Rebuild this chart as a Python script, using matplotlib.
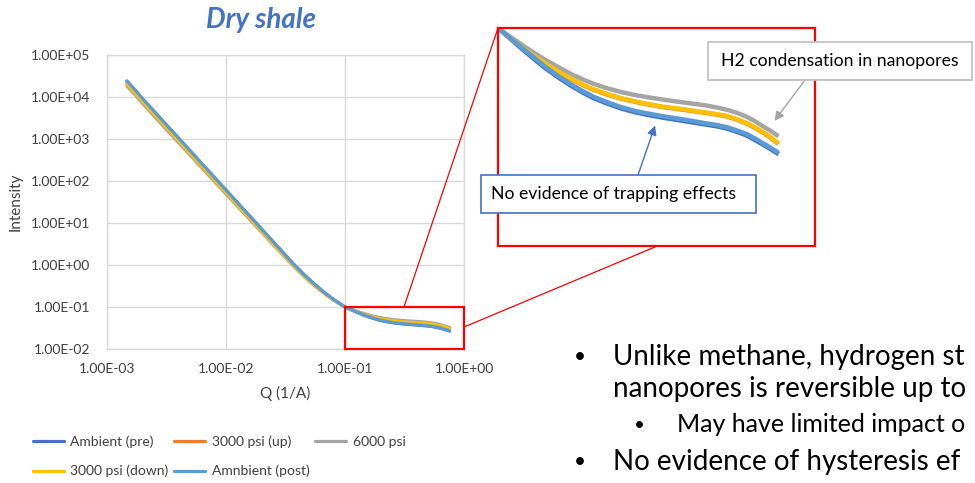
import matplotlib
matplotlib.use("Agg")
import matplotlib.pyplot as plt
from matplotlib.ticker import FuncFormatter, LogLocator, NullLocator
from matplotlib.patches import Rectangle, ConnectionPatch

plt.rcParams['font.family'] = ['Lato', 'DejaVu Sans']

# Scattering vector Q (1/A)
q = [0.00147, 0.0017, 0.002, 0.0025, 0.003, 0.004, 0.005, 0.0065, 0.008, 0.01,
     0.013, 0.016, 0.02, 0.025, 0.03, 0.037, 0.045, 0.055, 0.067, 0.08,
     0.1, 0.11, 0.12, 0.13, 0.14, 0.155, 0.17, 0.185, 0.2, 0.22,
     0.245, 0.27, 0.29, 0.33, 0.37, 0.41, 0.45, 0.49, 0.53, 0.57,
     0.61, 0.65, 0.69, 0.72, 0.757]

ambient_pre = [23500, 15000, 8800, 4400, 2500, 1030, 515, 228, 120, 60,
               26.6, 14.0, 7.0, 3.5, 2.0, 1.04, 0.596, 0.355, 0.221, 0.151,
               0.100, 0.0885, 0.0793, 0.0720, 0.0659, 0.0593, 0.0543, 0.0506, 0.0477, 0.0451,
               0.0427, 0.0411, 0.0402, 0.0388, 0.0378, 0.0369, 0.0361, 0.0354, 0.0345, 0.0333,
               0.0321, 0.0305, 0.0290, 0.0280, 0.0267]

psi3000_up = [20600, 13100, 7700, 3860, 2200, 905, 454, 201, 106, 53.5,
              23.8, 12.6, 6.35, 3.2, 1.84, 0.965, 0.557, 0.336, 0.213, 0.148,
              0.100, 0.0890, 0.0805, 0.0739, 0.0688, 0.0627, 0.0582, 0.0547, 0.0521, 0.0496,
              0.0474, 0.0459, 0.0449, 0.0434, 0.0425, 0.0416, 0.0408, 0.0401, 0.0392, 0.0379,
              0.0364, 0.0347, 0.0329, 0.0316, 0.0298]

psi6000 = [18300, 11700, 6900, 3450, 1960, 815, 410, 183, 97, 49,
           22.0, 11.7, 5.95, 3.02, 1.75, 0.93, 0.54, 0.328, 0.209, 0.146,
           0.100, 0.0906, 0.0830, 0.0769, 0.0719, 0.0661, 0.0615, 0.0581, 0.0555, 0.0530,
           0.0508, 0.0493, 0.0484, 0.0470, 0.0459, 0.0450, 0.0442, 0.0432, 0.0421, 0.0407,
           0.0391, 0.0372, 0.0352, 0.0339, 0.0323]

psi3000_down = [20400, 13000, 7650, 3830, 2180, 900, 450, 200, 105.5, 53,
                23.6, 12.5, 6.3, 3.18, 1.83, 0.96, 0.555, 0.335, 0.212, 0.147,
                0.100, 0.0893, 0.0809, 0.0743, 0.0692, 0.0631, 0.0585, 0.0550, 0.0524, 0.0499,
                0.0476, 0.0461, 0.0451, 0.0436, 0.0427, 0.0418, 0.0410, 0.0403, 0.0394, 0.0381,
                0.0366, 0.0349, 0.0331, 0.0318, 0.0300]

ambient_post = [24200, 15400, 9000, 4500, 2550, 1050, 525, 232, 122, 61,
                27.0, 14.2, 7.1, 3.55, 2.02, 1.05, 0.60, 0.357, 0.222, 0.152,
                0.100, 0.0893, 0.0803, 0.0731, 0.0669, 0.0602, 0.0551, 0.0514, 0.0484, 0.0458,
                0.0433, 0.0417, 0.0408, 0.0394, 0.0384, 0.0375, 0.0366, 0.0359, 0.0350, 0.0338,
                0.0326, 0.0310, 0.0294, 0.0284, 0.0271]

series = [
    ("Ambient (pre)", ambient_pre, "#4472C4"),
    ("3000 psi (up)", psi3000_up, "#ED7D31"),
    ("6000 psi", psi6000, "#A5A5A5"),
    ("3000 psi (down)", psi3000_down, "#FFC000"),
    ("Amnbient (post)", ambient_post, "#5B9BD5"),
]

W, H = 975, 483
fig = plt.figure(figsize=(W / 100, H / 100), dpi=100)


def fx(px):
    return px / W


def fy(py):
    return 1 - py / H


# ---- main log-log chart ----
ax = fig.add_axes([fx(107), fy(349), fx(464) - fx(107), fy(55) - fy(349)])
handles = {}
for name, vals, col in series:
    ln, = ax.plot(q, vals, color=col, lw=2.3, label=name, solid_capstyle='round')
    handles[name] = ln

ax.set_xscale('log')
ax.set_yscale('log')
ax.set_xlim(1e-3, 1)
ax.set_ylim(1e-2, 1e5)
ax.xaxis.set_major_locator(LogLocator(base=10, numticks=10))
ax.yaxis.set_major_locator(LogLocator(base=10, numticks=10))
ax.xaxis.set_minor_locator(NullLocator())
ax.yaxis.set_minor_locator(NullLocator())
sci = FuncFormatter(lambda v, p: f"{v:.2E}")
ax.xaxis.set_major_formatter(sci)
ax.yaxis.set_major_formatter(sci)
ax.tick_params(axis='both', length=0, labelsize=10, colors='#404040')
ax.tick_params(axis='y', pad=12)
ax.tick_params(axis='x', pad=10)
ax.grid(True, color='#D9D9D9', lw=1)
ax.set_axisbelow(True)
for s in ax.spines.values():
    s.set_color('#D9D9D9')
    s.set_linewidth(1)
ax.set_xlabel("Q (1/A)", fontsize=11, color='#404040', labelpad=8)
ax.set_ylabel("Intensity", fontsize=11, color='#404040', labelpad=6)

# highlighted region
ax.add_patch(Rectangle((0.1, 0.01), 0.9, 0.09, fill=False, edgecolor='#FF0000',
                       lw=1.6, clip_on=False, zorder=6))

fig.text(fx(261), fy(20), "Dry shale", fontsize=20, fontweight='bold', fontstyle='italic',
         color='#4472C4', ha='center', va='center')

# ---- magnified view of the highlighted region ----
axin = fig.add_axes([fx(498), fy(246), fx(815) - fx(498), fy(28) - fy(246)])
for name, vals, col in series:
    axin.plot(q, vals, color=col, lw=3.2)
axin.set_xscale('log')
axin.set_yscale('log')
axin.set_xlim(0.1, 1)
axin.set_ylim(0.01, 0.1)
axin.set_xticks([])
axin.set_yticks([])
axin.xaxis.set_minor_locator(NullLocator())
axin.yaxis.set_minor_locator(NullLocator())
for s in axin.spines.values():
    s.set_color('#FF0000')
    s.set_linewidth(1.6)

for xa, ya, xb, yb in [(0.313, 0.1, 0.1, 0.1), (1.0, 0.0334, 0.318, 0.01)]:
    cp = ConnectionPatch(xyA=(xa, ya), coordsA=ax.transData,
                         xyB=(xb, yb), coordsB=axin.transData,
                         color='#FF0000', lw=0.9, zorder=7)
    fig.add_artist(cp)

# ---- callouts ----
fig.add_artist(Rectangle((fx(708), fy(80)), fx(972) - fx(708), fy(42) - fy(80),
                         transform=fig.transFigure, facecolor='white',
                         edgecolor='#BFBFBF', lw=1.2, zorder=8))
fig.text(fx(721), fy(61), "H2 condensation in nanopores", fontsize=12.7,
         color='#000000', ha='left', va='center', zorder=9)
axin.annotate('', xy=(0.745, 0.0375), xycoords='data',
              xytext=(fx(805), fy(80)), textcoords='figure fraction',
              arrowprops=dict(arrowstyle='-|>', color='#A5A5A5', lw=1,
                              mutation_scale=14, shrinkA=0, shrinkB=0),
              annotation_clip=False, zorder=8)

fig.add_artist(Rectangle((fx(481), fy(213)), fx(756) - fx(481), fy(175) - fy(213),
                         transform=fig.transFigure, facecolor='white',
                         edgecolor='#4472C4', lw=1.2, zorder=8))
fig.text(fx(491), fy(194), "No evidence of trapping effects", fontsize=12.7,
         color='#000000', ha='left', va='center', zorder=9)
axin.annotate('', xy=(0.313, 0.0357), xycoords='data',
              xytext=(fx(638), fy(175)), textcoords='figure fraction',
              arrowprops=dict(arrowstyle='-|>', color='#4472C4', lw=1,
                              mutation_scale=14, shrinkA=0, shrinkB=0),
              annotation_clip=False, zorder=8)

# ---- bullet notes ----
bullets = [
    (580, 613, 357, "Unlike methane, hydrogen st", 20),
    (None, 613, 389, "nanopores is reversible up to", 20),
    (640, 677, 425, "May have limited impact o", 18),
    (580, 613, 462, "No evidence of hysteresis ef", 20),
]
for bx, tx, ty, txt, fs in bullets:
    if bx is not None:
        fig.text(fx(bx), fy(ty), "\u2022", fontsize=fs * 0.75, ha='center', va='center')
    fig.text(fx(tx), fy(ty), txt, fontsize=fs, ha='left', va='center')

# ---- legend (row-wise order in a 3-column grid) ----
order = ["Ambient (pre)", "3000 psi (down)", "3000 psi (up)", "Amnbient (post)", "6000 psi"]
fig.legend([handles[n] for n in order], order, ncol=3, loc='upper left',
           bbox_to_anchor=(fx(33), fy(435)), frameon=False, fontsize=10,
           handlelength=2.2, handletextpad=0.5, columnspacing=0.4,
           labelspacing=1.25, borderpad=0, borderaxespad=0, labelcolor='#404040')

fig.savefig("out.png", dpi=100)
